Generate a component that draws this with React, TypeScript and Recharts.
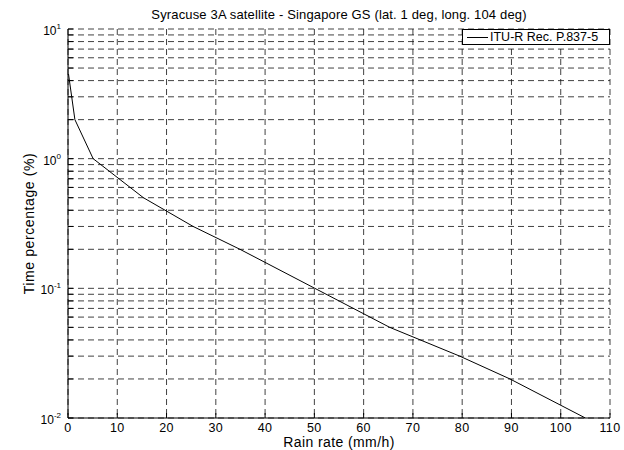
import React from 'react';
import {
  LineChart,
  Line,
  XAxis,
  YAxis,
  CartesianGrid,
  Label,
} from 'recharts';

const FONT = '"Liberation Sans", Arial, Helvetica, sans-serif';

// values
const rainRate = [0.1, 1.4, 5.1, 15.3, 25.4, 34.9, 50.1, 65.3, 79.5, 89.7, 105];
const timePct = [4.5, 2, 1, 0.5, 0.3, 0.2, 0.1, 0.05, 0.03, 0.02, 0.01];

const xTicks = [0, 10, 20, 30, 40, 50, 60, 70, 80, 90, 100, 110];
const yTicks = [
  0.01, 0.02, 0.03, 0.04, 0.05, 0.06, 0.07, 0.08, 0.09,
  0.1, 0.2, 0.3, 0.4, 0.5, 0.6, 0.7, 0.8, 0.9,
  1, 2, 3, 4, 5, 6, 7, 8, 9, 10,
];

const data = rainRate.map((r, i) => ({ rain: r, pct: timePct[i] }));

const isDecade = (v: number) => {
  const e = Math.round(Math.log10(v));
  return Math.abs(v - Math.pow(10, e)) < 1e-9;
};

const YTick = (props: any) => {
  const { x, y, payload, side } = props;
  const v = payload.value as number;
  const dir = side === 'left' ? 1 : -1;
  const exp = Math.round(Math.log10(v));
  return (
    <g>
      <line x1={x} x2={x + dir * 5} y1={y} y2={y} stroke="#000" strokeWidth={1} />
      {side === 'left' && isDecade(v) && (
        <text x={x - 7} y={y + 6} textAnchor="end" fontFamily={FONT} fontSize={12} fill="#000">
          10
          <tspan dy={-6} fontSize={8}>
            {exp}
          </tspan>
        </text>
      )}
    </g>
  );
};

const XTick = (props: any) => {
  const { x, y, payload, side } = props;
  const dir = side === 'bottom' ? -1 : 1;
  return (
    <g>
      <line x1={x} x2={x} y1={y} y2={y + dir * 5} stroke="#000" strokeWidth={1} />
      {side === 'bottom' && (
        <text
          x={x}
          y={y + 14}
          textAnchor="middle"
          fontFamily={FONT}
          fontSize={12.5}
          letterSpacing={0.4}
          fill="#000"
        >
          {payload.value}
        </text>
      )}
    </g>
  );
};

const YLabel = (props: any) => {
  const { viewBox } = props;
  const cx = viewBox.x + 30;
  const cy = viewBox.y + viewBox.height / 2;
  return (
    <text
      x={cx}
      y={cy}
      transform={`rotate(-90, ${cx}, ${cy})`}
      textAnchor="middle"
      dominantBaseline="middle"
      fontFamily={FONT}
      fontSize={14}
      letterSpacing={0.6}
      fill="#000"
    >
      Time percentage (%)
    </text>
  );
};

export default function App() {
  return (
    <div style={{ position: 'absolute', left: 0, top: 0, width: 624, height: 450, background: '#fff' }}>
      <div
        style={{
          position: 'absolute',
          top: 7,
          left: 68,
          width: 542,
          textAlign: 'center',
          fontFamily: FONT,
          fontSize: 13,
          letterSpacing: 0.15,
          lineHeight: '15px',
          color: '#000',
        }}
      >
        Syracuse 3A satellite - Singapore GS (lat. 1 deg, long. 104 deg)
      </div>
      <LineChart
        width={624}
        height={450}
        data={data}
        margin={{ top: 29, right: 14, bottom: 0, left: 0 }}
      >
        <CartesianGrid
          stroke="#111"
          strokeWidth={0.8}
          strokeDasharray="6 4"
          horizontalValues={yTicks}
          verticalValues={xTicks}
        />
        <XAxis
          dataKey="rain"
          type="number"
          domain={[0, 110]}
          ticks={xTicks}
          allowDataOverflow
          height={32}
          tickSize={0}
          tickMargin={0}
          tickLine={false}
          axisLine={{ stroke: '#000' }}
          tick={<XTick side="bottom" />}
          interval={0}
        >
          <Label
            value="Rain rate (mm/h)"
            position="insideBottom"
            offset={3}
            style={{ fontFamily: FONT, fontSize: 14, letterSpacing: 0.4, fill: '#000' }}
          />
        </XAxis>
        <XAxis
          xAxisId="top"
          orientation="top"
          type="number"
          domain={[0, 110]}
          ticks={xTicks}
          height={0}
          tickSize={0}
          tickMargin={0}
          tickLine={false}
          axisLine={{ stroke: '#000' }}
          tick={<XTick side="top" />}
          interval={0}
        />
        <YAxis
          scale="log"
          type="number"
          domain={[0.01, 10]}
          ticks={yTicks}
          allowDataOverflow
          width={68}
          tickSize={0}
          tickMargin={0}
          tickLine={false}
          axisLine={{ stroke: '#000' }}
          tick={<YTick side="left" />}
          interval={0}
          label={<YLabel />}
        />
        <YAxis
          yAxisId="right"
          orientation="right"
          scale="log"
          type="number"
          domain={[0.01, 10]}
          ticks={yTicks}
          allowDataOverflow
          width={0}
          tickSize={0}
          tickMargin={0}
          tickLine={false}
          axisLine={{ stroke: '#000' }}
          tick={<YTick side="right" />}
          interval={0}
        />
        <Line
          type="linear"
          dataKey="pct"
          name="ITU-R Rec. P.837-5"
          stroke="#000"
          strokeWidth={1}
          dot={false}
          isAnimationActive={false}
        />
      </LineChart>
      <div
        style={{
          position: 'absolute',
          top: 29,
          left: 462,
          width: 148,
          height: 16,
          boxSizing: 'border-box',
          display: 'flex',
          alignItems: 'center',
          border: '1px solid #000',
          background: '#fff',
          fontFamily: FONT,
          fontSize: 12.5,
          color: '#000',
          whiteSpace: 'nowrap',
        }}
      >
        <span style={{ display: 'inline-block', width: 21, borderTop: '1px solid #000', marginLeft: 4, marginRight: 2 }} />
        <span>ITU-R Rec. P.837-5</span>
      </div>
    </div>
  );
}
